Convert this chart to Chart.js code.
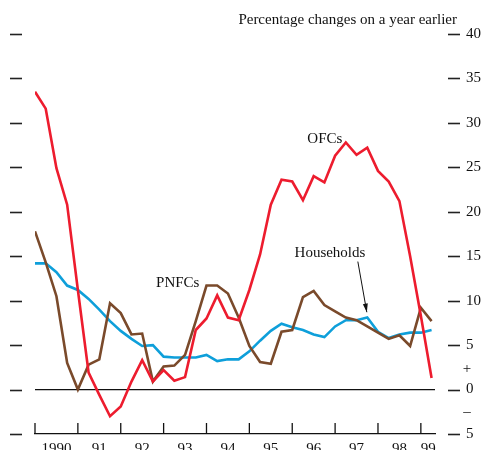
<!DOCTYPE html>
<html>
<head>
<meta charset="utf-8">
<script src="https://cdn.jsdelivr.net/npm/chart.js@4/dist/chart.umd.min.js"></script>
<style>
  body { margin: 0; background: #fff; }
  #wrap { width: 485px; height: 450px; }
</style>
</head>
<body>
<div id="wrap"><canvas id="lineChart" width="485" height="450"></canvas></div>
<script>
// quarterly data, 1990 Q1 to 1999 Q2
var firstYear = 1990;
var ofcs = [33.5, 31.6, 24.9, 20.8, 11.2, 1.9, -0.6, -3.0, -1.9, 0.9,
            3.3, 0.9, 2.2, 1.0, 1.4, 6.7, 8.0, 10.6, 8.1, 7.8,
            11.2, 15.2, 20.8, 23.6, 23.4, 21.3, 24.0, 23.3, 26.3, 27.8,
            26.4, 27.2, 24.6, 23.4, 21.2, 15.0, 8.3, 1.3];
var pnfcs = [17.8, 14.3, 10.5, 3.0, 0.0, 2.8, 3.4, 9.7, 8.6, 6.2,
             6.3, 0.9, 2.6, 2.7, 3.9, 7.7, 11.7, 11.7, 10.8, 8.1,
             4.9, 3.1, 2.9, 6.5, 6.7, 10.4, 11.1, 9.5, 8.8, 8.1,
             7.8, 7.1, 6.4, 5.7, 6.1, 4.9, 9.2, 7.7];
var households = [14.2, 14.2, 13.2, 11.7, 11.2, 10.2, 9.0, 7.7, 6.6, 5.7,
                  4.9, 5.0, 3.7, 3.6, 3.6, 3.6, 3.9, 3.2, 3.4, 3.4,
                  4.3, 5.5, 6.6, 7.4, 7.0, 6.7, 6.2, 5.9, 7.1, 7.8,
                  7.8, 8.1, 6.5, 5.8, 6.2, 6.4, 6.4, 6.7];
var yearLabels = ["1990", "91", "92", "93", "94", "95", "96", "97", "98", "99"];
var yearLabelPos = [1990.5, 1991.5, 1992.5, 1993.5, 1994.5, 1995.5, 1996.5, 1997.5, 1998.5, 1999.17];
var yTicks = [-5, 0, 5, 10, 15, 20, 25, 30, 35, 40];

function toPoints(arr) {
  return arr.map(function(v, i) { return { x: firstYear + i / 4, y: v }; });
}

var serif = '"Liberation Serif", "Times New Roman", serif';
Chart.defaults.font.family = serif;
Chart.defaults.color = '#111';

var extras = {
  id: 'extras',
  afterDraw: function(chart) {
    var c = chart.ctx, xs = chart.scales.x, ys = chart.scales.y, area = chart.chartArea;
    c.save();
    // side dashes
    c.strokeStyle = '#222';
    c.lineWidth = 1.6;
    yTicks.forEach(function(v) {
      var py = Math.round(ys.getPixelForValue(v)) + 0.5;
      c.beginPath(); c.moveTo(10, py); c.lineTo(22, py); c.stroke();
      c.beginPath(); c.moveTo(area.right + 13, py); c.lineTo(area.right + 25, py); c.stroke();
    });
    // year ticks pointing up
    c.lineWidth = 1.3;
    c.strokeStyle = '#111';
    for (var yr = 1990; yr <= 1999; yr++) {
      var px = xs.getPixelForValue(yr);
      c.beginPath(); c.moveTo(px, area.bottom); c.lineTo(px, area.bottom - 11); c.stroke();
    }
    // +/- signs
    c.fillStyle = '#111';
    c.font = '15px ' + serif;
    c.textAlign = 'center';
    c.textBaseline = 'middle';
    c.fillText('+', area.right + 32, ys.getPixelForValue(2.3));
    c.fillText('\u2013', area.right + 32, ys.getPixelForValue(-2.5));
    // units note
    c.textAlign = 'right';
    c.font = '15px ' + serif;
    c.fillText('Percentage changes on a year earlier', 457, 20);
    // series labels
    c.textAlign = 'center';
    c.fillText('OFCs', xs.getPixelForValue(1996.76), ys.getPixelForValue(28.2));
    c.fillText('PNFCs', xs.getPixelForValue(1993.33), ys.getPixelForValue(12.0));
    c.fillText('Households', xs.getPixelForValue(1996.88), ys.getPixelForValue(15.4));
    // arrow to households line
    var ax1 = xs.getPixelForValue(1997.53), ay1 = ys.getPixelForValue(14.4);
    var ax2 = xs.getPixelForValue(1997.74), ay2 = ys.getPixelForValue(8.7);
    c.lineWidth = 1;
    c.beginPath(); c.moveTo(ax1, ay1); c.lineTo(ax2, ay2); c.stroke();
    var ang = Math.atan2(ay2 - ay1, ax2 - ax1);
    c.beginPath();
    c.moveTo(ax2, ay2);
    c.lineTo(ax2 - 9 * Math.cos(ang - 0.28), ay2 - 9 * Math.sin(ang - 0.28));
    c.lineTo(ax2 - 9 * Math.cos(ang + 0.28), ay2 - 9 * Math.sin(ang + 0.28));
    c.closePath();
    c.fill();
    c.restore();
  }
};

var ctx = document.getElementById("lineChart");
var myChart = new Chart(ctx, {
  type: 'line',
  data: {
    datasets: [
      { label: 'OFCs', data: toPoints(ofcs), borderColor: '#ED1C2E', borderWidth: 2.6 },
      { label: 'PNFCs', data: toPoints(pnfcs), borderColor: '#7A4A2B', borderWidth: 2.6 },
      { label: 'Households', data: toPoints(households), borderColor: '#0E9FDA', borderWidth: 2.6 }
    ]
  },
  options: {
    responsive: false,
    animation: false,
    elements: { point: { radius: 0 }, line: { tension: 0 } },
    layout: { padding: { left: 35, top: 34, right: 0, bottom: 0 } },
    plugins: { legend: { display: false }, tooltip: { enabled: false } },
    scales: {
      x: {
        type: 'linear',
        min: 1990,
        max: 1999.33,
        afterFit: function(s) { s.height = 16; },
        afterBuildTicks: function(s) {
          s.ticks = yearLabelPos.map(function(v) { return { value: v }; });
        },
        ticks: {
          autoSkip: false,
          maxRotation: 0,
          padding: 6,
          font: { size: 15 },
          color: '#111',
          callback: function(v, i) { return yearLabels[i]; }
        },
        grid: { display: true, drawOnChartArea: false, drawTicks: false },
        border: { display: true, color: '#111', width: 1.3 }
      },
      y: {
        position: 'right',
        min: -5,
        max: 40,
        afterFit: function(s) { s.width = 50; },
        afterBuildTicks: function(s) {
          s.ticks = yTicks.map(function(v) { return { value: v }; });
        },
        ticks: {
          padding: 3,
          font: { size: 15 },
          color: '#111',
          callback: function(v) { return Math.abs(v); }
        },
        grid: {
          drawTicks: true,
          tickLength: 28,
          tickColor: 'rgba(0,0,0,0)',
          lineWidth: 1.3,
          color: function(c) { return c.tick && c.tick.value === 0 ? '#111' : 'rgba(0,0,0,0)'; }
        },
        border: { display: false }
      }
    }
  },
  plugins: [extras]
});
</script>
</body>
</html>
